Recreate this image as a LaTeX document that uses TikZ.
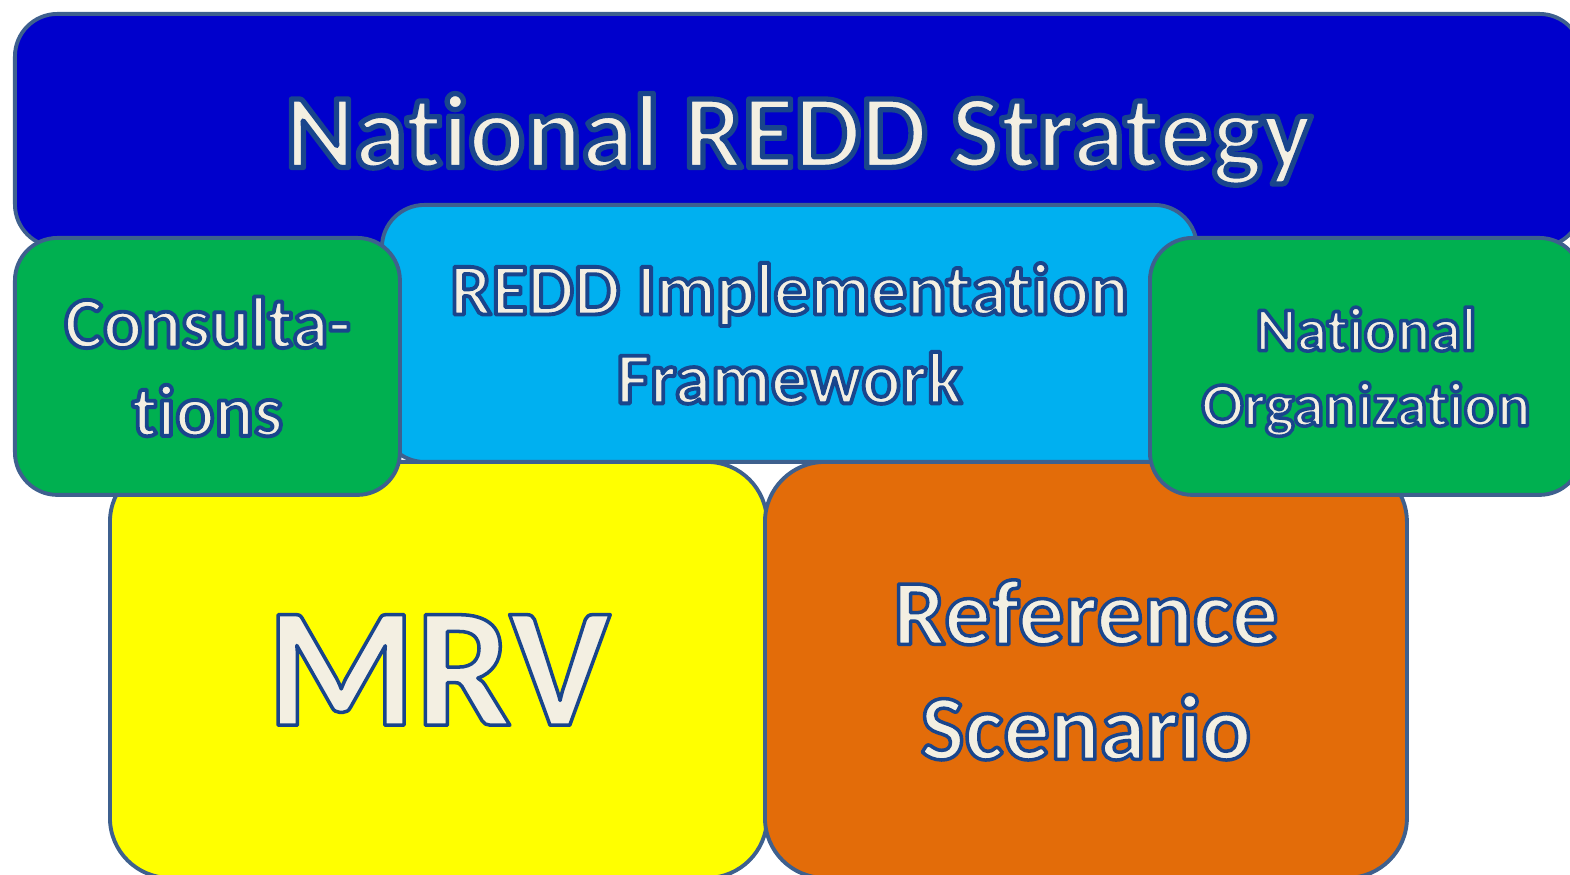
\documentclass[tikz,border=0pt]{standalone}
\usepackage{fontspec}
\setmainfont[Ligatures=NoCommon]{Carlito}
\definecolor{edgeblue}{HTML}{3E608E}
\definecolor{cream}{HTML}{F3EFE2}
\definecolor{stratblue}{HTML}{0000CC}
\definecolor{frameblue}{HTML}{00B0F0}
\definecolor{leafgreen}{HTML}{00B050}
\definecolor{mrvyellow}{HTML}{FFFF00}
\definecolor{refsorange}{HTML}{E36C09}
%% cream letters with a dark blue rim (text drawn filled and stroked)
\def\rimw{2}
\newcommand\glow[1]{{\bfseries\color{cream}\special{pdf:literal 0.1 0.27 0.55 RG 1 j 2 Tr \rimw\space w}#1}}
\tikzset{
  box/.style={draw=edgeblue,line width=2.2pt,fill=#1,rectangle,rounded corners=0.85cm,
    inner sep=0pt,anchor=north west,align=center},
  bigbox/.style={box=#1,rounded corners=1.2cm},
  rim/.style={execute at begin node={\def\rimw{#1}}}
}
\begin{document}
\begin{tikzpicture}
    \useasboundingbox (0,0) rectangle (31.4,17.5);
    %% Strategy band
    \node[box=stratblue,rim=3,text depth=0pt,minimum width=31.34cm,minimum height=4.66cm,font=\fontsize{60}{72}\selectfont] (strategy) at (0.26,17.26) {\glow{National REDD Strategy}};
    %% Lower blocks
    \node[bigbox=mrvyellow,rim=2,minimum width=13.14cm,minimum height=8.32cm,font=\fontsize{97}{116}\selectfont] (mrv) at (2.16,8.3) {\glow{MRV}};
    \node[bigbox=refsorange,rim=2,minimum width=12.84cm,minimum height=8.32cm,font=\fontsize{52.8}{65.5}\selectfont] (refscen) at (15.26,8.3) {\glow{Reference}\\\glow{Scenario}};
    %% Framework and side blocks
    \node[box=frameblue,rim=2.2,minimum width=16.3cm,minimum height=5.14cm,font=\fontsize{41.8}{50.6}\selectfont] (framework) at (7.6,13.44) {\glow{REDD Implementation}\\\glow{Framework}};
    \node[box=leafgreen,rim=2.2,minimum width=7.7cm,minimum height=5.14cm,font=\fontsize{41.5}{50.2}\selectfont] (consult) at (0.26,12.78) {\glow{Consulta-}\\\glow{tions}};
    \node[box=leafgreen,rim=2,text depth=0pt,minimum width=8.64cm,minimum height=5.14cm,font=\fontsize{35.4}{42.7}\selectfont] (natorg) at (22.96,12.78) {\glow{National}\\\glow{Organization}};
\end{tikzpicture}
\end{document}
